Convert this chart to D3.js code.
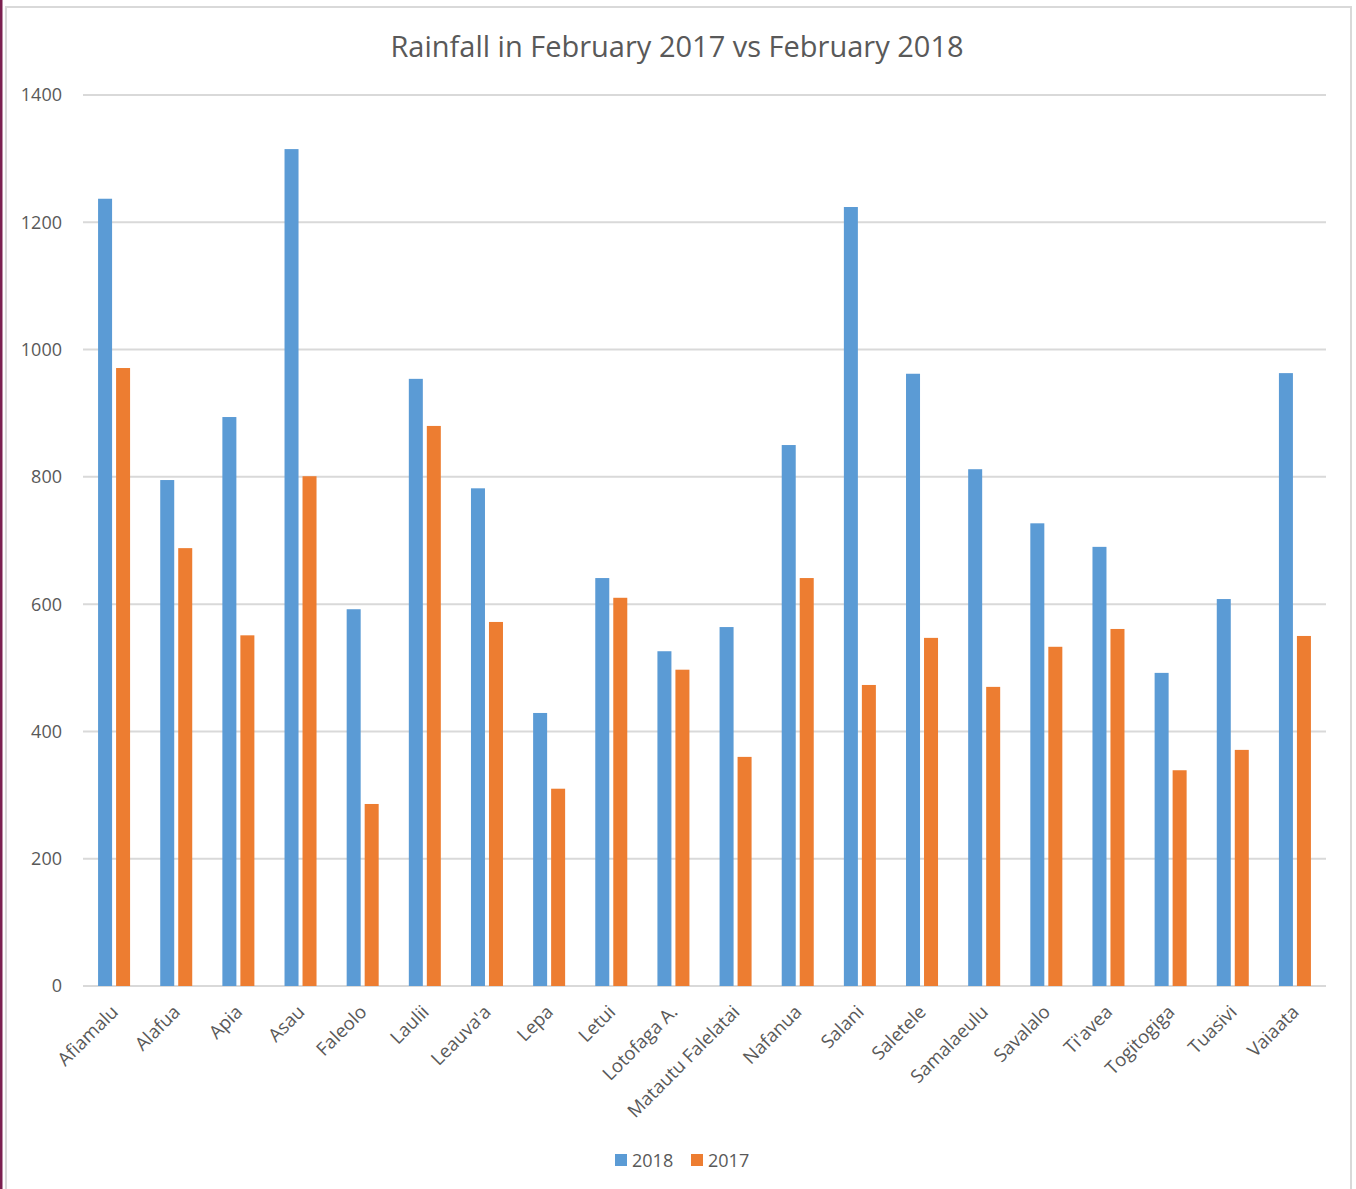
<!DOCTYPE html>
<meta charset="utf-8">
<style>
body { margin: 0; background: #fff; }
text { font-family: "Open Sans", sans-serif; fill: #595959; }
.grid line { stroke: #d9d9d9; stroke-width: 2px; }
</style>
<svg width="1356" height="1189"></svg>
<script src="https://d3js.org/d3.v7.min.js"></script>
<script>

var stations = ["Afiamalu", "Alafua", "Apia", "Asau", "Faleolo", "Laulii", "Leauva'a", "Lepa", "Letui",
  "Lotofaga A.", "Matautu Falelatai", "Nafanua", "Salani", "Saletele", "Samalaeulu", "Savalalo",
  "Ti'avea", "Togitogiga", "Tuasivi", "Vaiaata"];
var rain2018 = [1237, 795, 894, 1315, 592, 954, 782, 429, 641, 526, 564, 850, 1224, 962, 812, 727, 690, 492, 608, 963];
var rain2017 = [971, 688, 551, 801, 286, 880, 572, 310, 610, 497, 360, 641, 473, 547, 470, 533, 561, 339, 371, 550];
var seriesNames = ["2018", "2017"];
var seriesColors = ["#5b9bd5", "#ed7d31"];
var yTicks = [0, 200, 400, 600, 800, 1000, 1200, 1400];

var svg = d3.select("svg");

// frame
svg.append("rect").attr("x", 0).attr("y", 0).attr("width", 2.5).attr("height", 1189).attr("fill", "#7b2050");
svg.append("path")
  .attr("d", "M6,1189 V7 H1351 V1189")
  .attr("fill", "none").attr("stroke", "#d9d9d9").attr("stroke-width", 2);

var x0 = d3.scaleBand().domain(stations).range([83, 1326]).paddingInner(0.485).paddingOuter(0.2425);
var x1 = d3.scaleBand().domain(seriesNames).range([0, x0.bandwidth()]).paddingInner(0.222);
var y = d3.scaleLinear().domain([0, 1400]).range([986, 95]);

// gridlines
svg.append("g").attr("class", "grid")
  .selectAll("line").data(yTicks).enter().append("line")
  .attr("x1", 83).attr("x2", 1326)
  .attr("y1", function(d) { return y(d); })
  .attr("y2", function(d) { return y(d); });

// y labels
svg.append("g").selectAll("text").data(yTicks).enter().append("text")
  .attr("x", 62).attr("y", function(d) { return y(d); })
  .attr("dy", "0.36em")
  .attr("text-anchor", "end")
  .style("font-size", "18px")
  .text(function(d) { return d; });

// bars
var rows = stations.map(function(s, i) { return { name: s, vals: [rain2018[i], rain2017[i]] }; });

var groups = svg.append("g").selectAll("g").data(rows).enter().append("g")
  .attr("transform", function(d) { return "translate(" + x0(d.name) + ",0)"; });

groups.selectAll("rect")
  .data(function(d) { return d.vals.map(function(v, j) { return { key: seriesNames[j], v: v, c: seriesColors[j] }; }); })
  .enter().append("rect")
  .attr("x", function(d) { return x1(d.key); })
  .attr("width", x1.bandwidth())
  .attr("y", function(d) { return y(d.v); })
  .attr("height", function(d) { return y(0) - y(d.v); })
  .attr("fill", function(d) { return d.c; });

// x labels
svg.append("g").selectAll("text").data(stations).enter().append("text")
  .attr("transform", function(d) {
    return "translate(" + (x0(d) + x0.bandwidth() / 2 - 4) + ",1004) rotate(-45)";
  })
  .attr("text-anchor", "end")
  .attr("dy", "0.7em")
  .style("font-size", "18.5px")
  .text(function(d) { return d; });

// title
svg.append("text")
  .attr("x", 677).attr("y", 57)
  .attr("text-anchor", "middle")
  .style("font-size", "29px")
  .text("Rainfall in February 2017 vs February 2018");

// legend
var legend = svg.append("g").selectAll("g").data(seriesNames).enter().append("g")
  .attr("transform", function(d, i) { return "translate(" + (615 + i * 76) + ",1154)"; });
legend.append("rect").attr("width", 12).attr("height", 12)
  .attr("fill", function(d, i) { return seriesColors[i]; });
legend.append("text").attr("x", 17).attr("y", 13)
  .style("font-size", "18px")
  .text(function(d) { return d; });

</script>
